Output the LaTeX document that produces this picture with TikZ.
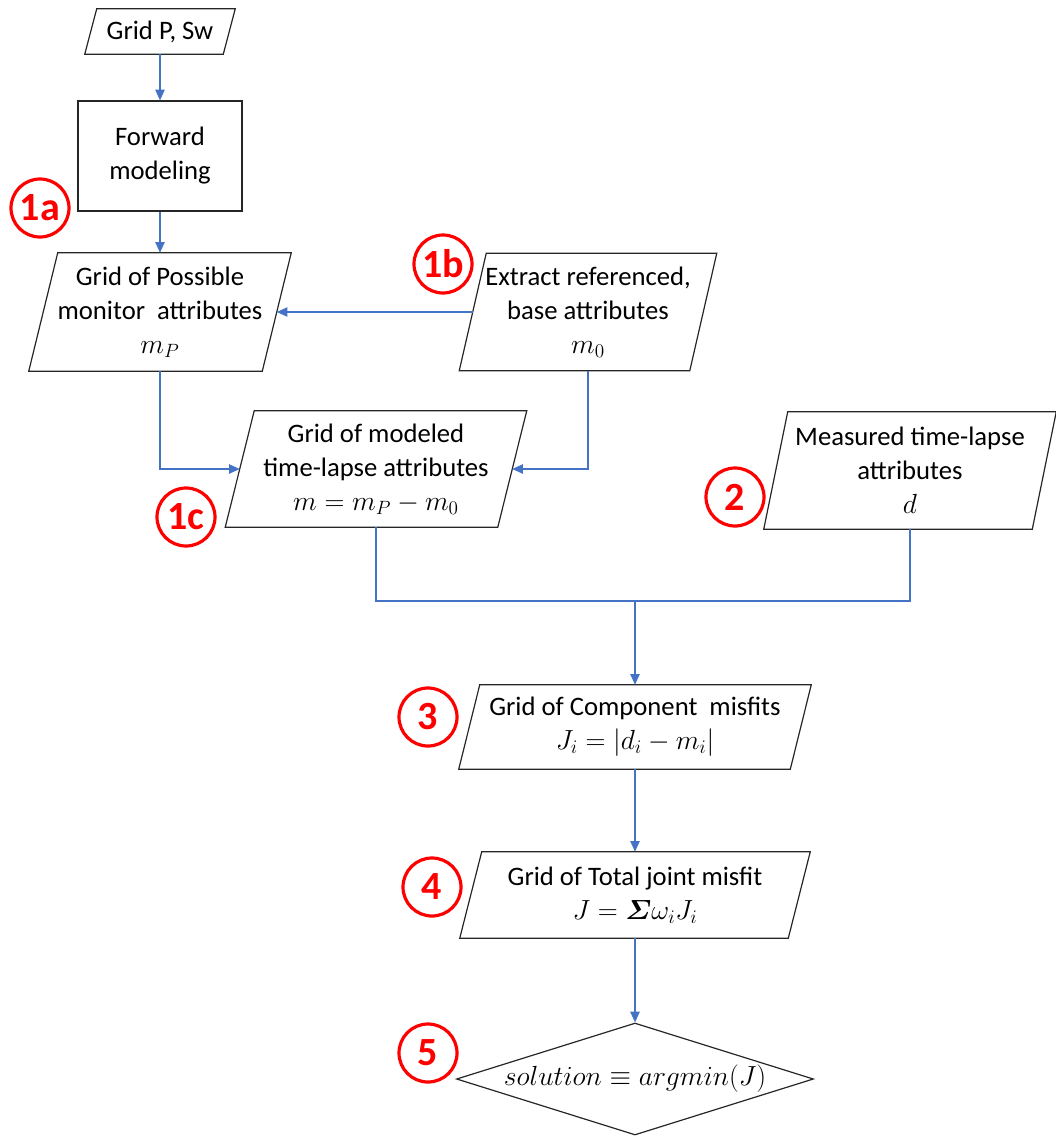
\documentclass[tikz,border=0pt]{standalone}
\usepackage{amsmath}
\usepackage{fontspec}
\setmainfont{Carlito}
\usetikzlibrary{calc,arrows.meta,shapes.geometric}
\definecolor{lnblue}{HTML}{4472C4}
\definecolor{circred}{HTML}{FF0000}
\begin{document}
\begin{tikzpicture}[x=0.75pt,y=-0.75pt,
  txt/.style={inner sep=0pt, align=center, font=\fontsize{20}{25.5}\selectfont},
  sz/.style 2 args={minimum width=#1*0.75pt, minimum height=#2*0.75pt},
  flow/.style={draw=lnblue, line width=1pt, -{Triangle[length=8pt,width=7pt]}},
  plain/.style={draw=lnblue, line width=1pt},
  num/.style={circle, draw=circred, line width=2.4pt, minimum size=43.5pt, inner sep=0pt, text=circred, font=\fontsize{30}{30}\selectfont\bfseries},
  shapeline/.style={draw=black!85, line width=0.9pt}]
\useasboundingbox (0,0) rectangle (1056,1136);

% nodes
\node[txt, sz={138}{45}] (gp) at (160,31.5) {Grid P, Sw};
\node[txt, sz={164}{110}, shapeline] (fwd) at (160,156) {Forward\\modeling};
\node[txt, sz={233}{118}] (gpos) at (160,312) {Grid of Possible\\monitor\ \ attributes\\$m_P$};
\node[txt, sz={230}{117}] (ext) at (588,312) {Extract referenced,\\base attributes\\$m_0$};
\node[txt, sz={272}{116}] (gmod) at (376,469) {Grid of modeled\\time-lapse attributes\\$m = m_P - m_0$};
\node[txt, sz={268}{117}] (meas) at (910,470.5) {Measured time-lapse\\attributes\\$d$};
\node[txt, sz={331}{84}] (comp) at (635,727) {Grid of Component\ \ misfits\\$J_i = |d_i - m_i|$};
\node[txt, sz={328}{86}] (tot) at (635,895) {Grid of Total joint misfit\\$J = \boldsymbol{\varSigma}\omega_i J_i$};
\node[diamond, shapeline, aspect=3.19, inner sep=0pt, minimum width=357*0.75pt, minimum height=112*0.75pt] (dia) at (635,1079) {};
\node[txt] (sol) at (dia.center) {$solution \equiv argmin(J)$};

% parallelogram outlines
\foreach \n/\s in {gp/6, gpos/14.5, ext/13.5, gmod/14.5, meas/12, comp/10.5, tot/11}
  \draw[shapeline] ($(\n.north west)+(\s,0)$) -- ($(\n.north east)+(\s,0)$) -- ($(\n.south east)-(\s,0)$) -- ($(\n.south west)-(\s,0)$) -- cycle;

% step numbers
\node[num] (c1a) at (40,208) {1a};
\node[num] (c1b) at (443,264) {1b};
\node[num] (c1c) at (186,517) {1c};
\node[num] (c2) at (735,497) {2};
\node[num] (c3) at (428,717) {3};
\node[num] (c4) at (432,887) {4};
\node[num] (c5) at (428,1053) {5};

% connectors
\coordinate (j) at (635,601);
\draw[flow] (gp.south) -- (fwd.north);
\draw[flow] (fwd.south) -- (gpos.north);
\draw[flow] (ext.west) -- (gpos.east);
\draw[flow] (gpos.south) |- (gmod.west);
\draw[flow] (ext.south) |- (gmod.east);
\draw[plain] (gmod.south) |- (j) -| (meas.south);
\draw[flow] (j) -- (comp.north);
\draw[flow] (comp.south) -- (tot.north);
\draw[flow] (tot.south) -- (dia.north);
\end{tikzpicture}
\end{document}
